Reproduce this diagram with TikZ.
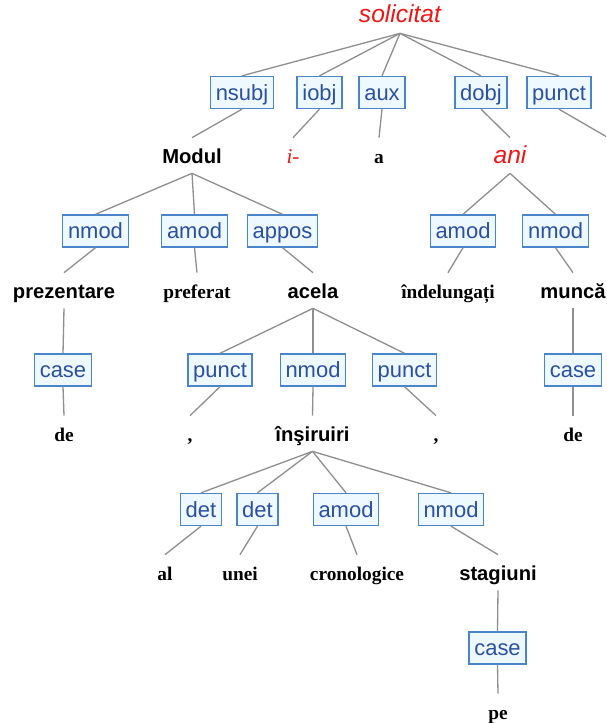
\documentclass[tikz,border=0pt]{standalone}
\usepackage{fontspec}
\setmainfont{Liberation Serif}
\setsansfont{Liberation Sans}
\definecolor{relblue}{HTML}{2B4FA3}
\definecolor{relline}{HTML}{4A84CA}
\definecolor{relfill}{HTML}{EEF9FF}
\definecolor{edgegray}{HTML}{8F8F8F}
\definecolor{headred}{HTML}{F01414}
\tikzset{
  rel/.style={draw=relline,fill=relfill,text=relblue,line width=0.8pt,
    font=\sffamily\fontsize{12.5}{14}\selectfont,inner xsep=3pt,inner ysep=3.2pt,
    text height=10.4pt,text depth=1.4pt},
  word/.style={anchor=base,inner sep=0pt,text height=0.5cm,text depth=0.2cm},
  wsans/.style={word,font=\sffamily\bfseries\fontsize{11.5}{14}\selectfont},
  wserif/.style={word,font=\bfseries\fontsize{11}{13}\selectfont},
  whead/.style={word,text=headred,font=\sffamily\itshape\fontsize{14}{16}\selectfont},
  wheadserif/.style={word,text=headred,font=\itshape\fontsize{12}{14}\selectfont},
  link/.style={draw=edgegray,line width=0.75pt}
}
\begin{document}
\begin{tikzpicture}[x=0.02cm,y=-0.02cm]
  \useasboundingbox (0,0) rectangle (606,723);
  \clip (0,0) rectangle (606,723);
  \node[whead] (solicitat) at (400,23) {solicitat};
  \node[rel] (nsubj) at (242,92.5) {nsubj};
  \node[rel] (iobj) at (319.5,92.5) {iobj};
  \node[rel] (aux) at (382,92.5) {aux};
  \node[rel] (dobj) at (481,92.5) {dobj};
  \node[rel] (punctA) at (559,92.5) {punct};
  \coordinate (cut) at (650,162);
  \node[wsans] (modul) at (192,163) {Modul};
  \node[wheadserif] (iword) at (293,163) {i-};
  \node[wserif] (aword) at (379,163) {a};
  \node[whead] (ani) at (510,163) {ani};
  \node[rel] (nmodA) at (95.5,231) {nmod};
  \node[rel] (amodA) at (194.5,231) {amod};
  \node[rel] (appos) at (282.5,231) {appos};
  \node[rel] (amodB) at (463,231) {amod};
  \node[rel] (nmodB) at (555.5,231) {nmod};
  \node[wsans] (prezentare) at (64,298) {prezentare};
  \node[wserif] (preferat) at (197,298) {preferat};
  \node[wsans] (acela) at (313,298) {acela};
  \node[wserif] (indelungati) at (448,298) {îndelungați};
  \node[wsans] (munca) at (573,298) {muncă};
  \node[rel] (caseA) at (63,370) {case};
  \node[rel] (punctB) at (220,370) {punct};
  \node[rel] (nmodC) at (313,370) {nmod};
  \node[rel] (punctC) at (404.5,370) {punct};
  \node[rel] (caseB) at (573,370) {case};
  \node[wserif] (deA) at (64,441) {de};
  \node[wserif] (commaA) at (190,441) {,};
  \node[wsans] (insiruiri) at (312.5,441) {înşiruiri};
  \node[wserif] (commaB) at (436,441) {,};
  \node[wserif] (deB) at (573,441) {de};
  \node[rel] (detA) at (201,509.5) {det};
  \node[rel] (detB) at (257.5,509.5) {det};
  \node[rel] (amodC) at (346,509.5) {amod};
  \node[rel] (nmodD) at (451,509.5) {nmod};
  \node[wserif] (al) at (165,580) {al};
  \node[wserif] (unei) at (240,580) {unei};
  \node[wserif] (cronologice) at (357,580) {cronologice};
  \node[wsans] (stagiuni) at (498,580) {stagiuni};
  \node[rel] (caseC) at (497.5,648) {case};
  \node[wserif] (pe) at (498,719) {pe};
  \foreach \a/\b in {solicitat/nsubj,solicitat/iobj,solicitat/aux,solicitat/dobj,solicitat/punctA,
      nsubj/modul,iobj/iword,aux/aword,dobj/ani,
      modul/nmodA,modul/amodA,modul/appos,nmodA/prezentare,amodA/preferat,appos/acela,
      ani/amodB,ani/nmodB,amodB/indelungati,nmodB/munca,
      prezentare/caseA,caseA/deA,munca/caseB,caseB/deB,
      acela/punctB,acela/nmodC,acela/punctC,punctB/commaA,nmodC/insiruiri,punctC/commaB,
      insiruiri/detA,insiruiri/detB,insiruiri/amodC,insiruiri/nmodD,
      detA/al,detB/unei,amodC/cronologice,nmodD/stagiuni,stagiuni/caseC,caseC/pe}
    \draw[link] (\a.south) -- (\b.north);
  \draw[link] (punctA.south) -- (cut);
\end{tikzpicture}
\end{document}
